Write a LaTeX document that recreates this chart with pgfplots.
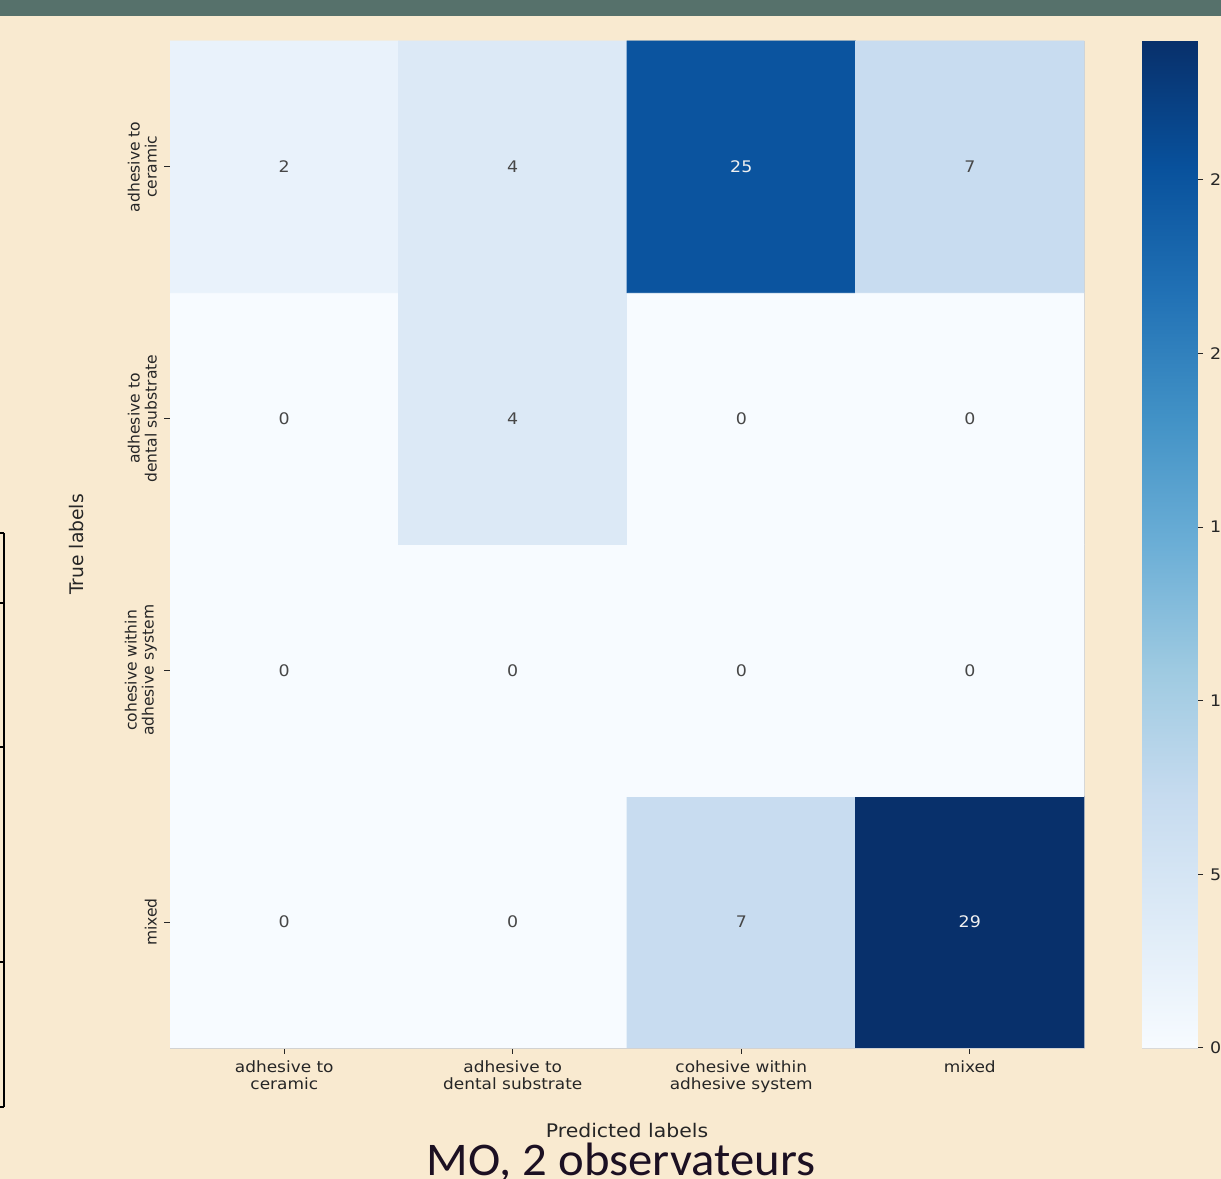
\documentclass[border=0pt]{standalone}
\usepackage{pgfplots}
\pgfplotsset{compat=1.18}
\usepackage{fontspec}
\setmainfont{DejaVu Sans}
\newfontfamily\wide[FakeStretch=1.09]{DejaVu Sans}
\newfontfamily\titlefont[FakeStretch=1.04]{Carlito}
\definecolor{bg}{RGB}{249,234,208}
\definecolor{topbar}{RGB}{86,113,107}
\definecolor{txt}{RGB}{38,38,38}
\definecolor{titlec}{RGB}{28,16,34}
\pgfplotsset{colormap={blues}{rgb255=(247,251,255) rgb255=(222,235,247) rgb255=(198,219,239) rgb255=(158,202,225) rgb255=(107,174,214) rgb255=(66,146,198) rgb255=(33,113,181) rgb255=(8,81,156) rgb255=(8,48,107)}}
\begin{document}
\begin{tikzpicture}[x=0.5bp,y=0.5bp]
\useasboundingbox (0,0) rectangle (1221,1179);
\clip (0,0) rectangle (1221,1179);
\fill[bg] (0,0) rectangle (1221,1179);
\fill[topbar] (0,1163) rectangle (1221,1179);
% partial table at the left edge
\draw[line width=1.1bp] (4,646) -- (4,72);
\foreach \yy in {646,576,432,217,72} \draw[line width=1.1bp] (-5,\yy) -- (4,\yy);
\begin{axis}[
  at={(85bp,65.5bp)}, anchor=south west,
  width=457bp, height=503.5bp, scale only axis,
  xmin=-0.5, xmax=3.5, ymin=-0.5, ymax=3.5,
  colormap name=blues, point meta min=0, point meta max=29,
  axis line style={draw=gray!35, line width=0.4bp},
  tick align=outside, major tick length=3bp,
  tick style={color=txt, line width=0.5bp},
  xtick pos=bottom, ytick pos=left,
  xtick={0,1,2,3}, ytick={0,1,2,3},
  xticklabels={{adhesive to\\ceramic},{adhesive to\\dental substrate},{cohesive within\\adhesive system},{mixed}},
  yticklabels={{mixed},{cohesive within\\adhesive system},{adhesive to\\dental substrate},{adhesive to\\ceramic}},
  xticklabel style={align=center, font=\wide\fontsize{7.8}{8.6}\selectfont, text=txt, yshift=0bp},
  yticklabel style={rotate=90, anchor=south, align=center, font=\fontsize{7.8}{8.6}\selectfont, text=txt},
  xlabel={Predicted labels}, ylabel={True labels},
  xlabel style={at={(axis description cs:0.5,-0.0824)}, anchor=center, font=\wide\fontsize{9.4}{10}\selectfont, text=txt},
  ylabel style={at={(axis description cs:-0.1018,0.5)}, anchor=center, rotate=0, font=\fontsize{9.4}{10}\selectfont, text=txt},
]
\addplot[matrix plot*, mesh/cols=4, point meta=explicit] table[meta=c] {
x y c
0 0 0
1 0 0
2 0 7
3 0 29
0 1 0
1 1 0
2 1 0
3 1 0
0 2 0
1 2 4
2 2 0
3 2 0
0 3 2
1 3 4
2 3 25
3 3 7
};
\addplot[draw=none, mark=none, nodes near coords, point meta=explicit symbolic,
  nodes near coords style={anchor=center, font=\wide\fontsize{8}{9}\selectfont, text=txt!85!white}] table[meta=c] {
x y c
0 0 0
1 0 0
2 0 7
0 1 0
1 1 0
2 1 0
3 1 0
0 2 0
1 2 4
2 2 0
3 2 0
0 3 2
1 3 4
3 3 7
};
\addplot[draw=none, mark=none, nodes near coords, point meta=explicit symbolic,
  nodes near coords style={anchor=center, font=\wide\fontsize{8}{9}\selectfont, text=white!88!gray}] table[meta=c] {
x y c
3 0 29
2 3 25
};
\end{axis}
% colour bar
\begin{axis}[
  at={(571bp,65.5bp)}, anchor=south west,
  width=27.5bp, height=503.5bp, scale only axis,
  xmin=0, xmax=1, ymin=0, ymax=29,
  colormap name=blues, point meta min=0, point meta max=29,
  xtick=\empty, ytick={0,5,10,15,20,25},
  ytick pos=right, yticklabel pos=right,
  tick align=outside, major tick length=3bp,
  tick style={color=txt, line width=0.5bp},
  axis line style={draw=gray!30, line width=0.4bp},
  yticklabel style={font=\wide\fontsize{8}{9}\selectfont, text=txt, /pgf/number format/assume math mode=true},
]
\addplot[surf, shader=interp, mesh/cols=2, point meta=explicit] table[meta=c] {
x y c
0 0 0
1 0 0
0 3.625 3.625
1 3.625 3.625
0 7.25 7.25
1 7.25 7.25
0 10.875 10.875
1 10.875 10.875
0 14.5 14.5
1 14.5 14.5
0 18.125 18.125
1 18.125 18.125
0 21.75 21.75
1 21.75 21.75
0 25.375 25.375
1 25.375 25.375
0 29 29
1 29 29
};
\end{axis}
\node[anchor=base, font=\titlefont\fontsize{23.5}{26}\selectfont, text=titlec] at (621,3) {MO, 2 observateurs};
\end{tikzpicture}
\end{document}
